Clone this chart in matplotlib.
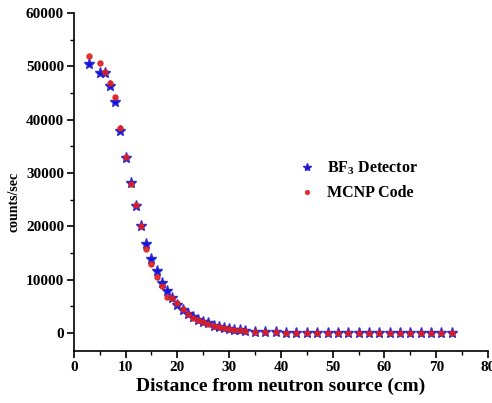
import matplotlib.pyplot as plt
from matplotlib.ticker import MultipleLocator

# distance from source (cm)
dist = [3, 5, 6, 7, 8, 9, 10, 11, 12, 13, 14, 15, 16, 17, 18, 19, 20, 21, 22, 23, 24,
        25, 26, 27, 28, 29, 30, 31, 32, 33, 35, 37, 39, 41, 43, 45, 47, 49, 51, 53, 55,
        57, 59, 61, 63, 65, 67, 69, 71, 73]

bf3 = [50400, 48800, 48800, 46300, 43250, 37870, 32800, 28060, 23870, 20060, 16600,
       13900, 11550, 9440, 7800, 6500, 5300, 4310, 3500, 2940, 2380, 2060, 1810, 1310,
       1060, 880, 690, 560, 500, 440, 250, 150, 100, 80, 60, 50, 40, 30, 30, 20, 20,
       20, 10, 10, 10, 10, 10, 10, 10, 10]

mcnp = [52000, 50600, 48900, 46800, 44200, 38440, 33060, 27940, 23900, 20000, 15700,
        12940, 10560, 8870, 6690, 6600, 5690, 4500, 3500, 2900, 2350, 2000, 1750, 1300,
        1050, 860, 680, 560, 490, 430, 240, 140, 100, 80, 60, 50, 40, 30, 30, 20, 20,
        20, 10, 10, 10, 10, 10, 10, 10, 10]

plt.rcParams['font.family'] = 'Liberation Serif'
plt.rcParams['font.weight'] = 'bold'
plt.rcParams['mathtext.fontset'] = 'custom'
plt.rcParams['mathtext.rm'] = 'Liberation Serif:bold'
plt.rcParams['mathtext.it'] = 'Liberation Serif:bold'
plt.rcParams['mathtext.bf'] = 'Liberation Serif:bold'

fig = plt.figure(figsize=(4.92, 4.03), dpi=100)
ax = fig.add_axes([0.150, 0.129, 0.842, 0.839])

ax.plot(dist, bf3, ls='none', marker='*', ms=8, color='#1010e0', mec='#2a2ad0', label='BF$_3$ Detector')
ax.plot(dist, mcnp, ls='none', marker='o', ms=3.6, color='#e02020', mec='#e02020', alpha=0.9, label='MCNP Code')

ax.set_xlim(0, 80)
ax.set_ylim(-3375, 60000)
ax.xaxis.set_major_locator(MultipleLocator(10))
ax.xaxis.set_minor_locator(MultipleLocator(5))
ax.yaxis.set_major_locator(MultipleLocator(10000))
ax.yaxis.set_minor_locator(MultipleLocator(5000))
ax.tick_params(which='major', direction='out', length=5, width=1.2, labelsize=11, pad=2)
ax.tick_params(which='minor', direction='out', length=3, width=1.0)
ax.spines['top'].set_visible(False)
ax.spines['right'].set_visible(False)
ax.spines['left'].set_linewidth(1.2)
ax.spines['bottom'].set_linewidth(1.2)
for lab in ax.get_xticklabels() + ax.get_yticklabels():
    lab.set_fontweight('bold')

ax.set_xlabel('Distance from neutron source (cm)', fontsize=14, fontweight='bold', labelpad=3)
ax.set_ylabel('counts/sec', fontsize=10, fontweight='bold')
ax.yaxis.set_label_coords(-0.128, 0.44)

ax.legend(loc='center left', bbox_to_anchor=(0.5, 0.505), frameon=False, markerscale=0.75,
          handlelength=1.5, handletextpad=0.5, labelspacing=0.55, prop={'weight': 'bold', 'size': 11.5})

fig.savefig('out.png', dpi=100)
